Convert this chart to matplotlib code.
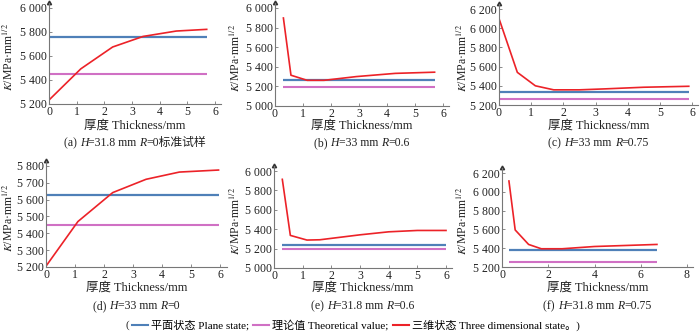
import matplotlib
matplotlib.use("Agg")
import matplotlib.pyplot as plt
from matplotlib.lines import Line2D

plt.rcParams['font.family'] = ['Liberation Serif', 'Noto Sans CJK SC', 'DejaVu Sans']
plt.rcParams['mathtext.fontset'] = 'stix'

# ---------------- data ----------------
a_x = [0, 1.15, 2.3, 3.4, 4.6, 5.7]
a_y = [5233, 5493, 5675, 5763, 5808, 5822]
a_plane, a_theory, a_span = 5755, 5446, [0, 5.7]

b_x = [0.3, 0.57, 1.15, 1.75, 2.9, 4.3, 5.7]
b_y = [5898, 5314, 5262, 5262, 5300, 5333, 5345]
b_plane, b_theory, b_span = 5268, 5192, [0.3, 5.7]

c_x = [0, 0.57, 1.13, 1.7, 2.5, 3.3, 4.5, 5.9]
c_y = [6100, 5540, 5400, 5358, 5358, 5368, 5385, 5395]
c_plane, c_theory, c_span = 5336, 5259, [0, 5.9]

d_x = [0, 1.1, 2.3, 3.45, 4.6, 5.95]
d_y = [5205, 5470, 5642, 5721, 5764, 5776]
d_plane, d_theory, d_span = 5628, 5452, [0, 5.95]

e_x = [0.29, 0.57, 1.15, 1.6, 3.0, 4.0, 5.0, 6.0]
e_y = [5914, 5336, 5288, 5291, 5342, 5373, 5387, 5387]
e_plane, e_theory, e_span = 5233, 5195, [0.29, 6.0]

f_x = [0.3, 0.57, 1.15, 1.7, 2.6, 4.0, 6.7]
f_y = [6115, 5594, 5440, 5394, 5394, 5418, 5440]
f_plane, f_theory, f_span = 5377, 5256, [0.3, 6.7]

x_ticks_6 = [0, 1, 2, 3, 4, 5, 6]
x_ticks_8 = [0, 2, 4, 6, 8]
y_ticks_a = [5200, 5400, 5600, 5800, 6000]
y_ticks_b = [5000, 5200, 5400, 5600, 5800, 6000]
y_ticks_c = [5200, 5400, 5600, 5800, 6000, 6200]
y_ticks_d = [5200, 5300, 5400, 5500, 5600, 5700, 5800]

captions = [
    [("(a) ", 'n'), ("H", 'i'), ("=31.8 mm ", 'n'), ("R", 'i'), ("=0标准试样", 'n')],
    [("(b) ", 'n'), ("H", 'i'), ("=33 mm ", 'n'), ("R", 'i'), ("=0.6", 'n')],
    [("(c) ", 'n'), ("H", 'i'), ("=33 mm ", 'n'), ("R", 'i'), ("=0.75", 'n')],
    [("(d) ", 'n'), ("H", 'i'), ("=33 mm ", 'n'), ("R", 'i'), ("=0", 'n')],
    [("(e) ", 'n'), ("H", 'i'), ("=31.8 mm ", 'n'), ("R", 'i'), ("=0.6", 'n')],
    [("(f) ", 'n'), ("H", 'i'), ("=31.8 mm ", 'n'), ("R", 'i'), ("=0.75", 'n')],
]
xlabel_text = "厚度 Thickness/mm"
ylabel_text = r"$K$/MPa·mm$^{1/2}$"
legend_labels = ["平面状态 Plane state;", "理论值 Theoretical value;", "三维状态 Three dimensional state。)"]

BLUE = '#4f80b8'
PINK = '#d070c4'
RED = '#ec2228'

W, H = 700, 335
fig = plt.figure(figsize=(W / 100, H / 100), dpi=100)

# layout: origin px (x0,y0), known tick px (x1 for xv, y1 for yv), extents
panels = [
    dict(x=a_x, y=a_y, pl=a_plane, th=a_theory, sp=a_span, o=(49, 104), yb=5200, x1=215, xv=6, y1=8, yv=6000, xe=221, ye=3, xt=x_ticks_6, yt=y_ticks_a),
    dict(x=b_x, y=b_y, pl=b_plane, th=b_theory, sp=b_span, o=(275, 106), yb=5000, x1=443, xv=6, y1=8, yv=6000, xe=449, ye=3, xt=x_ticks_6, yt=y_ticks_b),
    dict(x=c_x, y=c_y, pl=c_plane, th=c_theory, sp=c_span, o=(499, 105), yb=5200, x1=692, xv=6, y1=9, yv=6200, xe=698, ye=4, xt=x_ticks_6, yt=y_ticks_c),
    dict(x=d_x, y=d_y, pl=d_plane, th=d_theory, sp=d_span, o=(46, 267), yb=5200, x1=220, xv=6, y1=166, yv=5800, xe=227, ye=161, xt=x_ticks_6, yt=y_ticks_d),
    dict(x=e_x, y=e_y, pl=e_plane, th=e_theory, sp=e_span, o=(274, 268), yb=5000, x1=446, xv=6, y1=171, yv=6000, xe=452, ye=166, xt=x_ticks_6, yt=y_ticks_b),
    dict(x=f_x, y=f_y, pl=f_plane, th=f_theory, sp=f_span, o=(502, 267), yb=5200, x1=687, xv=8, y1=173, yv=6200, xe=693, ye=168, xt=x_ticks_8, yt=y_ticks_c),
]

def fmt(v):
    return f"{v:,}".replace(",", " ")

axes = []
for p in panels:
    x0, y0 = p['o']
    left = x0 / W
    width = (p['xe'] - x0) / W
    bottom = 1 - y0 / H
    height = (y0 - p['ye']) / H
    ax = fig.add_axes([left, bottom, width, height])
    xmax = p['xv'] * (p['xe'] - x0) / (p['x1'] - x0)
    ymax = p['yb'] + (p['yv'] - p['yb']) * (y0 - p['ye']) / (y0 - p['y1'])
    ax.set_xlim(0, xmax)
    ax.set_ylim(p['yb'], ymax)
    ax.plot(p['sp'], [p['pl']] * 2, color=BLUE, lw=1.6, solid_capstyle='butt')
    ax.plot(p['sp'], [p['th']] * 2, color=PINK, lw=1.5, solid_capstyle='butt')
    ax.plot(p['x'], p['y'], color=RED, lw=1.2)
    for s in ['top', 'right']:
        ax.spines[s].set_visible(False)
    for s in ['left', 'bottom']:
        ax.spines[s].set_color('#777777')
        ax.spines[s].set_linewidth(0.8)
    ax.set_xticks(p['xt'])
    ax.set_yticks(p['yt'])
    ax.set_yticklabels([fmt(v) for v in p['yt']])
    ax.tick_params(direction='in', length=2, width=0.6, color='#777777', labelsize=8.5, pad=1.5, labelcolor='#222222')
    ax.plot(1, 0, marker=(3, 0, -90), ms=3.5, color='#333333', transform=ax.get_yaxis_transform(), clip_on=False)
    ax.plot(0, 1, marker=(3, 0, 0), ms=3.5, color='#333333', transform=ax.get_xaxis_transform(), clip_on=False)
    ax.patch.set_alpha(0)
    axes.append(ax)

# y labels
ylabel_x = [9, 236, 463, 9, 236, 463]
for ax, p, yx in zip(axes, panels, ylabel_x):
    yc = (p['o'][1] + p['ye']) / 2 + 4
    fig.text(yx / W, 1 - yc / H, ylabel_text, rotation=90, ha='center', va='center', fontsize=8.5, color='#222222')

# x labels
for ax, p in zip(axes, panels):
    xc = (p['o'][0] + p['xe']) / 2
    yy = 126 if p['o'][1] < 150 else 288
    fig.text(xc / W, 1 - yy / H, xlabel_text, ha='center', va='center', fontsize=9, color='#222222')

fig.canvas.draw()
renderer = fig.canvas.get_renderer()

def rich(xc_px, y_px, pieces, size=8.5):
    objs = []
    for s, st in pieces:
        t = fig.text(0, 1 - y_px / H, s, fontsize=size, va='center', ha='left',
                     fontstyle='italic' if st == 'i' else 'normal', color='#222222')
        objs.append(t)
    widths = [t.get_window_extent(renderer).width for t in objs]
    total = sum(widths)
    x = xc_px - total / 2
    for t, w in zip(objs, widths):
        t.set_x(x / W)
        x += w

for p, cap in zip(panels, captions):
    xc = (p['o'][0] + p['xe']) / 2
    yy = 143 if p['o'][1] < 150 else 306
    rich(xc, yy, cap)

# legend
handles = [Line2D([], [], color=BLUE, lw=1.5),
           Line2D([], [], color=PINK, lw=1.5),
           Line2D([], [], color=RED, lw=1.5)]
leg = fig.legend(handles, legend_labels, loc='center', bbox_to_anchor=(356 / W, 1 - 325 / H),
                 ncol=3, frameon=False, fontsize=8, handlelength=1.4, handletextpad=0.3,
                 columnspacing=0.4, borderpad=0, borderaxespad=0)
fig.canvas.draw()
bb = leg.get_window_extent(renderer)
fig.text((bb.x0 - 3) / W, 1 - 325 / H, "(", ha='right', va='center', fontsize=8, color='#222222')

fig.savefig("out.png", dpi=100)
